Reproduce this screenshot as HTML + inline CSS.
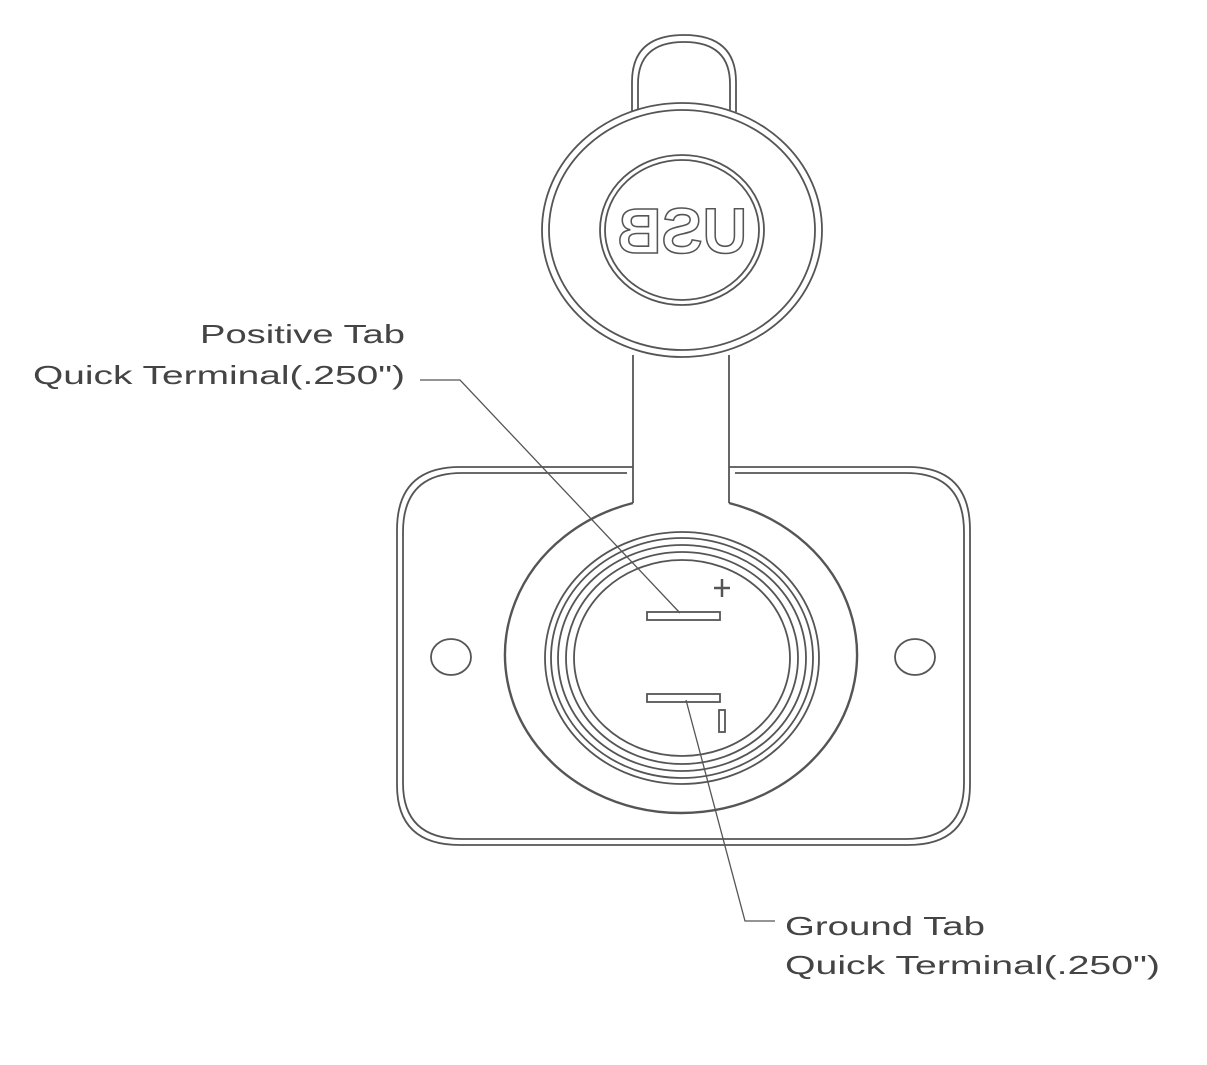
<!DOCTYPE html>
<html><head><meta charset="utf-8"><style>
html,body{margin:0;padding:0;background:#fff;}
svg{display:block;}
text{font-family:"Liberation Sans",sans-serif;fill:#444;font-size:26px;}
</style></head><body>
<svg width="1207" height="1065" viewBox="0 0 1207 1065">
<g fill="none" stroke="#555" stroke-width="1.8">
<path d="M632 112 L632 82 Q632 35 684 35 Q736 35 736 82 L736 112"/>
<path d="M638 110 L638 84 Q638 42 684 42 Q730 42 730 84 L730 110"/>
<ellipse cx="682" cy="230" rx="140" ry="127"/>
<ellipse cx="682" cy="230" rx="133" ry="120"/>
<ellipse cx="682" cy="230" rx="82" ry="75"/>
<ellipse cx="682" cy="230" rx="77" ry="70"/>
<line x1="633" y1="355" x2="633" y2="503"/>
<line x1="729" y1="355" x2="729" y2="503"/>
<path d="M633 467 L460 467 Q397 467 397 530 L397 785 Q397 845 460 845 L908 845 Q970 845 970 785 L970 530 Q970 467 908 467 L729 467"/>
<path d="M627 473 L462 473 Q403 473 403 532 L403 783 Q403 839 462 839 L906 839 Q964 839 964 783 L964 532 Q964 473 906 473 L735 473"/>
<path d="M633 503 A176 158 0 1 0 729 503" stroke-width="2.4"/>
<ellipse cx="682" cy="658" rx="137" ry="126"/>
<ellipse cx="682" cy="658" rx="131" ry="120"/>
<ellipse cx="682" cy="658" rx="124" ry="113"/>
<ellipse cx="682" cy="658" rx="116" ry="106"/>
<ellipse cx="682" cy="658" rx="108" ry="98"/>
<ellipse cx="451" cy="657" rx="20" ry="18"/>
<ellipse cx="915" cy="657" rx="20" ry="18"/>
<rect x="647" y="612" width="73" height="8"/>
<rect x="647" y="694" width="73" height="8"/>
<path d="M722 579 L722 597 M714 588 L730 588" stroke-width="2.5"/>
<rect x="719" y="710" width="6" height="22"/>
<path d="M420 380 L460 380 L680 613" stroke-width="1.3"/>
<path d="M686 700 L745 921 L775 921" stroke-width="1.3"/>
</g>
<text x="617" y="253" textLength="130" lengthAdjust="spacingAndGlyphs" transform="translate(1364 0) scale(-1 1)" style="font-size:64px;fill:none;stroke:#555;stroke-width:1.6;font-weight:bold;">USB</text>
<text x="200" y="343" textLength="205" lengthAdjust="spacingAndGlyphs">Positive Tab</text>
<text x="33" y="384" textLength="372" lengthAdjust="spacingAndGlyphs">Quick Terminal(.250")</text>
<text x="785" y="935" textLength="200" lengthAdjust="spacingAndGlyphs">Ground Tab</text>
<text x="785" y="974" textLength="375" lengthAdjust="spacingAndGlyphs">Quick Terminal(.250")</text>
</svg>
</body></html>
